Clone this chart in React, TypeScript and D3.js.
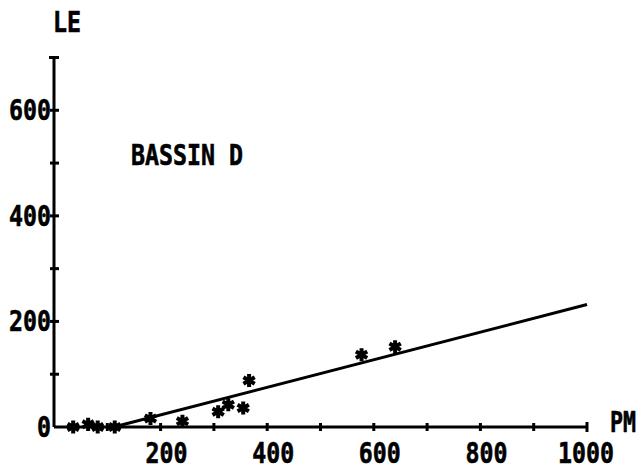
import React from 'react';
import * as d3 from 'd3';

// points (PM, LE)
const pmValues = [36, 64, 82, 114, 181, 241, 308, 327, 355, 366, 577, 640];
const leValues = [0, 5, 0, 0, 16, 11, 29, 42, 36, 88, 137, 152];

// fitted line, endpoints
const fitPM = [112, 1000];
const fitLE = [0, 232];

const xTickLabels = [200, 400, 600, 800, 1000];
const yTickLabels = [0, 200, 400, 600];
const xMinorTicks = [100, 200, 300, 400, 500, 600, 700, 800, 900];
const yMinorTicks = [100, 200, 300, 400, 500, 600];

const W = 644;
const H = 475;
const FONT = "'DejaVu Sans Mono', monospace";
const CH = 14; // glyph width

function Label({ x, y, text, anchor = 'start', cw = CH }: { x: number; y: number; text: string; anchor?: string; cw?: number }) {
  return (
    <text
      x={x}
      y={y}
      textAnchor={anchor}
      fontFamily={FONT}
      fontWeight="bold"
      fontSize={29}
      textLength={text.length * cw}
      lengthAdjust="spacingAndGlyphs"
      fill="#000"
      stroke="#000"
      strokeWidth={0.6}
    >
      {text}
    </text>
  );
}

export default function App() {
  const x = d3.scaleLinear().domain([0, 1000]).range([54, 587]);
  const y = d3.scaleLinear().domain([0, 700]).range([427, 57.5]);

  const line = d3
    .line<number>()
    .x((d) => x(fitPM[d]))
    .y((d) => y(fitLE[d]));

  const star = d3.symbol(d3.symbolAsterisk, 120)();

  return (
    <svg width={W} height={H} style={{ position: 'absolute', left: 0, top: 0, background: '#fff' }}>
      <rect width={W} height={H} fill="#fff" />
      {/* axes */}
      <line x1={x(0)} x2={x(0)} y1={y(700)} y2={y(0)} stroke="#000" strokeWidth={3} />
      <line x1={x(0)} x2={x(1000)} y1={y(0)} y2={y(0)} stroke="#000" strokeWidth={3} />
      <line x1={x(0) - 5} x2={x(0) + 5} y1={y(700)} y2={y(700)} stroke="#000" strokeWidth={3} />
      <line x1={x(1000)} x2={x(1000)} y1={y(0) - 5} y2={y(0) + 5} stroke="#000" strokeWidth={3} />
      {yMinorTicks.map((v) => (
        <line key={'yt' + v} x1={x(0) - 4} x2={x(0) + 5} y1={y(v)} y2={y(v)} stroke="#000" strokeWidth={3} />
      ))}
      {xMinorTicks.map((v) => (
        <line key={'xt' + v} x1={x(v)} x2={x(v)} y1={y(0) - 4} y2={y(0) + 4} stroke="#000" strokeWidth={3} />
      ))}
      {yTickLabels.map((v) => (
        <Label key={'yl' + v} x={51} y={y(v) + 10} text={String(v)} anchor="end" />
      ))}
      {xTickLabels.map((v) => (
        <Label key={'xl' + v} x={x(v) + 27} y={463} text={String(v)} anchor="end" />
      ))}
      <Label x={53} y={32} text="LE" />
      <Label x={610} y={432} text="PM" cw={13} />
      <Label x={131} y={165} text="BASSIN D" />
      {/* fit line */}
      <path d={line([0, 1]) || ''} fill="none" stroke="#000" strokeWidth={3} />
      {/* points */}
      {pmValues.map((pm, i) => (
        <path
          key={'p' + i}
          d={star || ''}
          transform={`translate(${x(pm)},${y(leValues[i])})`}
          fill="none"
          stroke="#000"
          strokeWidth={4}
        />
      ))}
    </svg>
  );
}
